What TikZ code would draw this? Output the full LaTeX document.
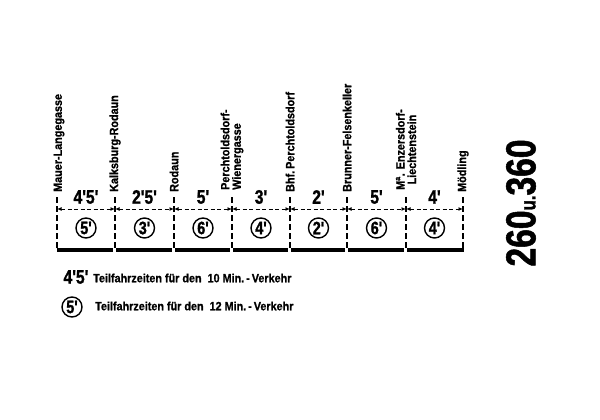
\documentclass[tikz,border=0pt]{standalone}
\usepackage{fontspec}
\setmainfont{Liberation Sans}
\newfontfamily\narrowfont{Liberation Sans}[FakeStretch=0.8,FakeBold=1.2]
\newfontfamily\labelfont{Liberation Sans}[FakeStretch=0.9,FakeBold=1]
\usetikzlibrary{arrows.meta,calc}

\tikzset{
  stopline/.style={line width=1.2pt,dash pattern=on 6pt off 3pt},
  span/.style={<->,>={Latex[length=4.5pt,width=4pt]},line width=1pt,
    dash pattern=on 4pt off 2.5pt},
  bar/.style={line width=4pt},
  stopname/.style={rotate=90,anchor=west,inner sep=0pt,
    font=\labelfont\bfseries\fontsize{12}{11.5}\selectfont},
  traveltime/.style={inner sep=0pt,
    font=\narrowfont\bfseries\fontsize{19.5}{20}\selectfont},
  circled/.style={draw,circle,line width=1.4pt,minimum size=20pt,inner sep=0pt,
    font=\narrowfont\bfseries\fontsize{18}{18}\selectfont},
  legendtext/.style={anchor=west,inner sep=0pt,
    font=\labelfont\bfseries\fontsize{12}{12}\selectfont}
}

\begin{document}
\begin{tikzpicture}[x=1pt,y=-1pt]
  \useasboundingbox (0,0) rectangle (600,420);

  % stops: top of line, arrow level, bar level
  \coordinate (t1) at (57,197);  \coordinate (a1) at (57,209);  \coordinate (b1) at (57,250);
  \coordinate (t2) at (115,197); \coordinate (a2) at (115,209); \coordinate (b2) at (115,250);
  \coordinate (t3) at (174,197); \coordinate (a3) at (174,209); \coordinate (b3) at (174,250);
  \coordinate (t4) at (232,197); \coordinate (a4) at (232,209); \coordinate (b4) at (232,250);
  \coordinate (t5) at (290,197); \coordinate (a5) at (290,209); \coordinate (b5) at (290,250);
  \coordinate (t6) at (347,197); \coordinate (a6) at (347,209); \coordinate (b6) at (347,250);
  \coordinate (t7) at (406,197); \coordinate (a7) at (406,209); \coordinate (b7) at (406,250);
  \coordinate (t8) at (463,197); \coordinate (a8) at (463,209); \coordinate (b8) at (463,250);

  % stop names
  \node[stopname] (n1) at ([xshift=2pt,yshift=5pt]t1) {Mauer-Langegasse};
  \node[stopname] (n2) at ([yshift=5pt]t2) {Kalksburg-Rodaun};
  \node[stopname] (n3) at ([yshift=5pt]t3) {Rodaun};
  \node[stopname,align=left] (n4) at ([yshift=7pt]t4) {Perchtoldsdorf-\\Wienergasse};
  \node[stopname] (n5) at ([yshift=5pt]t5) {Bhf.\,Perchtoldsdorf};
  \node[stopname] (n6) at ([yshift=5pt]t6) {Brunner-Felsenkeller};
  \node[stopname,align=center] (n7) at ([yshift=7pt]t7) {M\textsuperscript{a}. Enzersdorf-\\Liechtenstein};
  \node[stopname] (n8) at ([yshift=5pt]t8) {Mödling};

  % stop lines
  \draw[stopline] (t1) -- (b1);
  \draw[stopline] (t2) -- (b2);
  \draw[stopline] (t3) -- (b3);
  \draw[stopline] (t4) -- (b4);
  \draw[stopline] (t5) -- (b5);
  \draw[stopline] (t6) -- (b6);
  \draw[stopline] (t7) -- (b7);
  \draw[stopline] (t8) -- (b8);

  % spans
  \draw[span] (a1) -- (a2);
  \draw[span] (a2) -- (a3);
  \draw[span] (a3) -- (a4);
  \draw[span] (a4) -- (a5);
  \draw[span] (a5) -- (a6);
  \draw[span] (a6) -- (a7);
  \draw[span] (a7) -- (a8);

  % track
  \draw[bar] ([xshift=-0.5pt]b1) -- ([xshift=-2pt]b2);
  \draw[bar] ([xshift=1pt]b2) -- ([xshift=-2pt]b3);
  \draw[bar] ([xshift=1pt]b3) -- ([xshift=-2pt]b4);
  \draw[bar] ([xshift=1pt]b4) -- ([xshift=-2pt]b5);
  \draw[bar] ([xshift=1pt]b5) -- ([xshift=-2pt]b6);
  \draw[bar] ([xshift=1pt]b6) -- ([xshift=-2pt]b7);
  \draw[bar] ([xshift=1pt]b7) -- ([xshift=0.5pt]b8);

  % 10 min headway
  \node[traveltime] (m1) at ([yshift=12pt]$(a1)!0.5!(a2)$) {4'5'};
  \node[traveltime] (m2) at ([yshift=12pt]$(a2)!0.5!(a3)$) {2'5'};
  \node[traveltime] (m3) at ([yshift=12pt]$(a3)!0.5!(a4)$) {5'};
  \node[traveltime] (m4) at ([yshift=12pt]$(a4)!0.5!(a5)$) {3'};
  \node[traveltime] (m5) at ([yshift=12pt]$(a5)!0.5!(a6)$) {2'};
  \node[traveltime] (m6) at ([yshift=12pt]$(a6)!0.5!(a7)$) {5'};
  \node[traveltime] (m7) at ([yshift=12pt]$(a7)!0.5!(a8)$) {4'};

  % 12 min headway
  \node[circled] (c1) at ([yshift=-19pt]$(a1)!0.5!(a2)$) {5'};
  \node[circled] (c2) at ([yshift=-19pt]$(a2)!0.5!(a3)$) {3'};
  \node[circled] (c3) at ([yshift=-19pt]$(a3)!0.5!(a4)$) {6'};
  \node[circled] (c4) at ([yshift=-19pt]$(a4)!0.5!(a5)$) {4'};
  \node[circled] (c5) at ([yshift=-19pt]$(a5)!0.5!(a6)$) {2'};
  \node[circled] (c6) at ([yshift=-19pt]$(a6)!0.5!(a7)$) {6'};
  \node[circled] (c7) at ([yshift=-19pt]$(a7)!0.5!(a8)$) {4'};

  % legend
  \node[traveltime] (k1) at (76,277) {4'5'};
  \node[legendtext] (k1t) at (93,278) {Teilfahrzeiten für den\ \ 10 Min.\,-\,Verkehr};
  \node[circled] (k2) at (72,307) {5'};
  \node[legendtext] (k2t) at (95,306) {Teilfahrzeiten für den\ \ 12 Min.\,-\,Verkehr};

  % line numbers
  \node[rotate=90,inner sep=0pt,font=\narrowfont\bfseries\fontsize{42}{42}\selectfont]
    (lines) at (521,203) {260{\fontsize{21}{21}\selectfont u.}360};
\end{tikzpicture}
\end{document}
